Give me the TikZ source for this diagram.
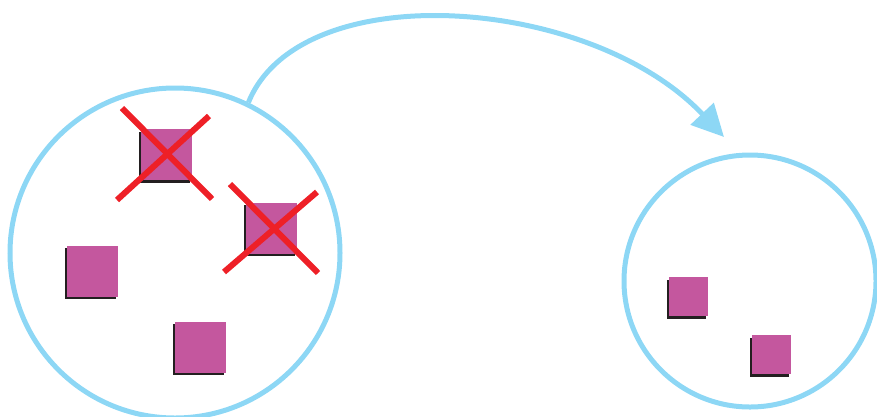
\documentclass[tikz,border=0pt]{standalone}
\usepackage{tikz}
\usepackage{xcolor}
\usetikzlibrary{arrows.meta,shadows}

\definecolor{setblue}{HTML}{8DD7F5}
\definecolor{itempink}{HTML}{C4579E}
\definecolor{crossred}{HTML}{EE2027}
\definecolor{shadowgrey}{HTML}{231F20}

\tikzset{
  set/.style={circle, draw=setblue, line width=5pt, inner sep=0pt},
  item/.style={rectangle, fill=itempink, inner sep=0pt, minimum size=#1,
    drop shadow={shadow xshift=-2.5pt, shadow yshift=-2.5pt, fill=shadowgrey, opacity=1}},
  item/.default=51pt,
  cross/.style={draw=crossred, line width=6pt},
  move/.style={draw=setblue, line width=5pt, -{Triangle[length=32pt, width=31pt]}}
}

\begin{document}
\begin{tikzpicture}[x=1pt, y=-1pt]
  \useasboundingbox (0,0) rectangle (877,416);
  % the two sets
  \node[set, minimum size=330pt] (src) at (175,253) {};
  \node[set, minimum size=252pt] (dst) at (750,281) {};
  % items of the first set
  \node[item] (a) at (166.5,154.5) {};
  \node[item] (b) at (271.5,228) {};
  \node[item] (c) at (92.5,271) {};
  \node[item] (d) at (200.5,347) {};
  % items of the second set
  \node[item=39pt] (e) at (688.5,296.5) {};
  \node[item=39pt] (f) at (771.5,354.5) {};
  % crossed out
  \draw[cross] ([shift={(-44.5,-46.5)}]a.center) -- ([shift={(45.5,44.5)}]a.center);
  \draw[cross] ([shift={(42.5,-38.5)}]a.center) -- ([shift={(-49.5,45.5)}]a.center);
  \draw[cross] ([shift={(-41.5,-44)}]b.center) -- ([shift={(46.5,45)}]b.center);
  \draw[cross] ([shift={(45.5,-36)}]b.center) -- ([shift={(-47.5,44)}]b.center);
  % the mapping
  \coordinate (tip) at (724,137);
  \draw[move] (src.64) .. controls (300,-25) and (590,-5) .. (tip);
\end{tikzpicture}
\end{document}
